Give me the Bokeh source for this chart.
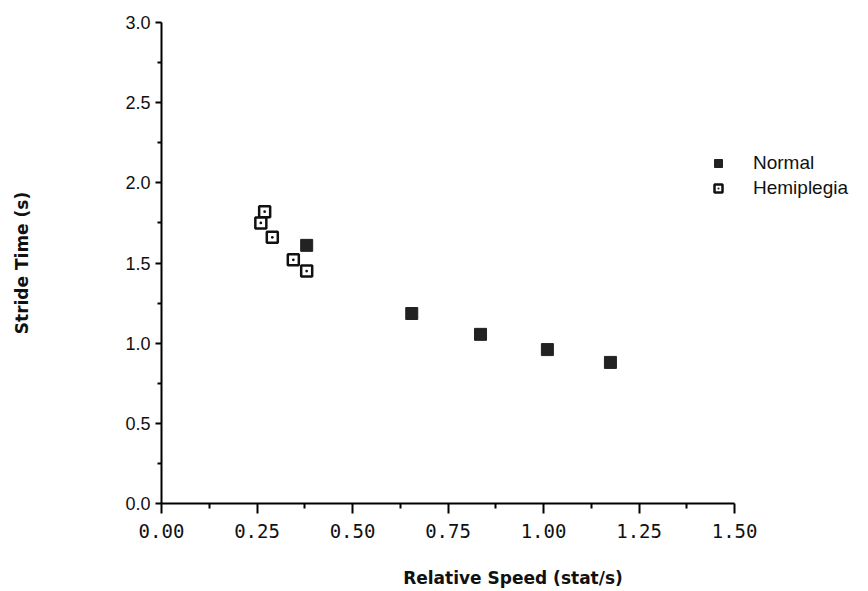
from bokeh.plotting import figure
from bokeh.models import Range1d, Legend, LegendItem, FixedTicker, NumeralTickFormatter
from bokeh.embed import file_html
from bokeh.resources import INLINE

# Data
normal_speed = [0.38, 0.655, 0.835, 1.01, 1.175]
normal_time = [1.61, 1.185, 1.055, 0.96, 0.88]
hemi_speed = [0.27, 0.26, 0.29, 0.345, 0.38]
hemi_time = [1.82, 1.75, 1.66, 1.52, 1.45]

x_ticks = [0.0, 0.25, 0.5, 0.75, 1.0, 1.25, 1.5]
y_ticks = [0.0, 0.5, 1.0, 1.5, 2.0, 2.5, 3.0]
x_minor = [(a + b) / 2 for a, b in zip(x_ticks[:-1], x_ticks[1:])]
y_minor = [(a + b) / 2 for a, b in zip(y_ticks[:-1], y_ticks[1:])]

# x range extends beyond 1.5 so the legend fits inside the frame;
# the axis line itself is bounded to 0..1.5
p = figure(width=868, height=591, output_backend="svg", toolbar_location=None,
           x_range=Range1d(0, 1.84), y_range=Range1d(0, 3),
           min_border_left=161, min_border_right=4,
           min_border_top=22, min_border_bottom=88)
p.outline_line_color = None
p.xgrid.grid_line_color = None
p.ygrid.grid_line_color = None
p.background_fill_color = "white"

r_norm = p.scatter(normal_speed, normal_time, marker="square", size=12,
                   fill_color="#222222", line_color="#222222", line_width=1)
r_hemi = p.scatter(hemi_speed, hemi_time, marker="square_dot", size=11,
                   fill_color="white", line_color="#111111", line_width=2.5)

# Axes
xa = p.xaxis[0]
xa.bounds = (x_ticks[0], x_ticks[-1])
xa.ticker = FixedTicker(ticks=x_ticks, minor_ticks=x_minor)
xa.formatter = NumeralTickFormatter(format="0.00")
xa.axis_line_width = 2
xa.major_tick_line_width = 2
xa.minor_tick_line_width = 2
xa.major_tick_out = 10
xa.major_tick_in = 0
xa.minor_tick_out = 5
xa.minor_tick_in = 0
xa.major_label_standoff = 10
xa.major_label_text_font = "DejaVu Sans Mono"
xa.major_label_text_font_size = "19px"
xa.major_label_text_color = "#111111"
xa.axis_label = "Relative Speed (stat/s)"
xa.axis_label_text_font = "DejaVu Sans"
xa.axis_label_text_font_style = "bold"
xa.axis_label_text_font_size = "17px"
xa.axis_label_standoff = 27
xa.axis_label_text_color = "#111111"

ya = p.yaxis[0]
ya.ticker = FixedTicker(ticks=y_ticks, minor_ticks=y_minor)
ya.formatter = NumeralTickFormatter(format="0.0")
ya.axis_line_width = 2
ya.major_tick_line_width = 2
ya.minor_tick_line_width = 2
ya.major_tick_out = 6
ya.major_tick_in = 0
ya.minor_tick_out = 4
ya.minor_tick_in = 0
ya.major_label_standoff = 5
ya.major_label_text_font = "Liberation Sans"
ya.major_label_text_font_size = "18px"
ya.major_label_text_color = "#111111"
ya.axis_label = "Stride Time (s)"
ya.axis_label_text_font = "DejaVu Sans"
ya.axis_label_text_font_style = "bold"
ya.axis_label_text_font_size = "17px"
ya.axis_label_standoff = 90
ya.axis_label_text_color = "#111111"

legend = Legend(items=[LegendItem(label="Normal", renderers=[r_norm]),
                       LegendItem(label="Hemiplegia", renderers=[r_hemi])],
                location=(547, 304), glyph_width=20, glyph_height=22,
                spacing=3, label_standoff=25, padding=0, margin=0,
                border_line_color=None, background_fill_alpha=0,
                label_text_font="Liberation Sans", label_text_font_size="19px",
                label_text_color="#111111", label_height=22)
p.add_layout(legend, "center")

open("out.html", "w").write(file_html(p, INLINE))
